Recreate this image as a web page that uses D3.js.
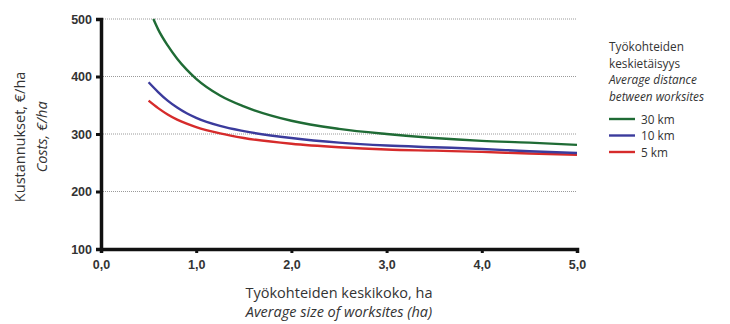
<!DOCTYPE html>
<html>
<head>
<meta charset="utf-8">
<script src="https://cdn.jsdelivr.net/npm/d3@7"></script>
<style>
  body { margin: 0; background: #fff; }
  text { font-family: "Open Sans", sans-serif; }
</style>
</head>
<body>
<svg id="chart"></svg>
<script>
// --- Data ---
const xTicks = [0, 1, 2, 3, 4, 5];
const yTicks = [100, 200, 300, 400, 500];

const km30X = [0.55, 0.6, 0.7, 0.8, 0.9, 1.0, 1.25, 1.5, 2.0, 2.5, 3.0, 3.5, 4.0, 4.5, 5.0];
const km30Y = [500, 482, 454, 431, 412, 396, 367, 348, 323, 309, 300, 293, 288, 285, 281];

const km10X = [0.5, 0.6, 0.7, 0.8, 0.9, 1.0, 1.25, 1.5, 2.0, 2.5, 3.0, 3.5, 4.0, 4.5, 5.0];
const km10Y = [390, 373, 358, 346, 336, 328, 314, 305, 293, 285, 280, 277, 274, 270, 267];

const km5X = [0.5, 0.6, 0.7, 0.8, 0.9, 1.0, 1.25, 1.5, 2.0, 2.5, 3.0, 3.5, 4.0, 4.5, 5.0];
const km5Y = [358, 345, 334, 325, 318, 312, 301, 293, 283, 277, 273, 271, 269, 266, 264];

const seriesNames = ["30 km", "10 km", "5 km"];
const seriesColors = ["#1f6b35", "#3b3b9c", "#d62b2b"];

// --- Setup ---
const width = 730, height = 324;
const marginLeft = 101, marginRight = 153, marginTop = 19, marginBottom = 75;

const svg = d3.select("#chart")
    .attr("width", width)
    .attr("height", height);

const x = d3.scaleLinear().domain([0, 5]).range([marginLeft, width - marginRight]);
const y = d3.scaleLinear().domain([100, 500]).range([height - marginBottom, marginTop]);

// grid lines (dotted)
svg.append("g")
  .selectAll("line")
  .data(yTicks.filter(d => d > 100))
  .join("line")
    .attr("x1", x(0))
    .attr("x2", x(5))
    .attr("y1", d => y(d))
    .attr("y2", d => y(d))
    .attr("stroke", "#9a9a9a")
    .attr("stroke-width", 1)
    .attr("stroke-dasharray", "1,1");

// --- Lines ---
const series = [
    { name: seriesNames[0], color: seriesColors[0], pts: km30X.map((v, i) => [v, km30Y[i]]) },
    { name: seriesNames[1], color: seriesColors[1], pts: km10X.map((v, i) => [v, km10Y[i]]) },
    { name: seriesNames[2], color: seriesColors[2], pts: km5X.map((v, i) => [v, km5Y[i]]) }
];

const line = d3.line()
    .x(d => x(d[0]))
    .y(d => y(d[1]))
    .curve(d3.curveMonotoneX);

svg.append("g")
  .selectAll("path")
  .data(series.slice().reverse())
  .join("path")
    .attr("d", d => line(d.pts))
    .attr("fill", "none")
    .attr("stroke", d => d.color)
    .attr("stroke-width", 2.4);

// --- Axes ---
const xAxis = svg.append("g")
    .attr("transform", `translate(0,${y(100)})`)
    .call(d3.axisBottom(x).tickValues(xTicks).tickSize(4).tickPadding(7)
        .tickFormat(d => d3.format(".1f")(d).replace(".", ",")));

const yAxis = svg.append("g")
    .attr("transform", `translate(${x(0)},0)`)
    .call(d3.axisLeft(y).tickValues(yTicks).tickSize(5).tickPadding(4));

[xAxis, yAxis].forEach(g => {
    g.select(".domain").attr("stroke", "#111").attr("stroke-width", 3.5);
    g.selectAll(".tick line").attr("stroke", "#111").attr("stroke-width", 3);
    g.selectAll(".tick text")
        .attr("fill", "#333")
        .style("font-family", "'Liberation Sans', Arial, sans-serif")
        .style("font-weight", "bold")
        .style("font-size", "12.5px");
});

// axis titles
svg.append("text")
    .attr("x", x(2.5))
    .attr("y", 298)
    .attr("text-anchor", "middle")
    .attr("fill", "#333")
    .style("font-size", "14.5px")
    .text("Työkohteiden keskikoko, ha");

svg.append("text")
    .attr("x", x(2.5))
    .attr("y", 317)
    .attr("text-anchor", "middle")
    .attr("fill", "#333")
    .style("font-size", "14.5px")
    .style("font-style", "italic")
    .text("Average size of worksites (ha)");

svg.append("text")
    .attr("transform", `translate(25,${y(295)}) rotate(-90)`)
    .attr("text-anchor", "middle")
    .attr("fill", "#333")
    .style("font-size", "14.5px")
    .text("Kustannukset, €/ha");

svg.append("text")
    .attr("transform", `translate(47,${y(295)}) rotate(-90)`)
    .attr("text-anchor", "middle")
    .attr("fill", "#333")
    .style("font-size", "14.5px")
    .style("font-style", "italic")
    .text("Costs, €/ha");

// --- Legend ---
const legendTitle = [
    { t: "Työkohteiden", it: false },
    { t: "keskietäisyys", it: false },
    { t: "Average distance", it: true },
    { t: "between worksites", it: true }
];

const legend = svg.append("g").attr("transform", "translate(609,0)");

legend.selectAll("text.title")
  .data(legendTitle)
  .join("text")
    .attr("class", "title")
    .attr("x", 0)
    .attr("y", (d, i) => 51 + i * 16.5)
    .attr("fill", "#333")
    .style("font-size", "11.8px")
    .style("font-style", d => d.it ? "italic" : "normal")
    .text(d => d.t);

const items = legend.selectAll("g.item")
  .data(series)
  .join("g")
    .attr("class", "item")
    .attr("transform", (d, i) => `translate(0,${119 + i * 16.5})`);

items.append("line")
    .attr("x1", 0)
    .attr("x2", 26)
    .attr("stroke", d => d.color)
    .attr("stroke-width", 2.4);

items.append("text")
    .attr("x", 32)
    .attr("y", 4.5)
    .attr("fill", "#333")
    .style("font-size", "11.8px")
    .text(d => d.name);
</script>
</body>
</html>
